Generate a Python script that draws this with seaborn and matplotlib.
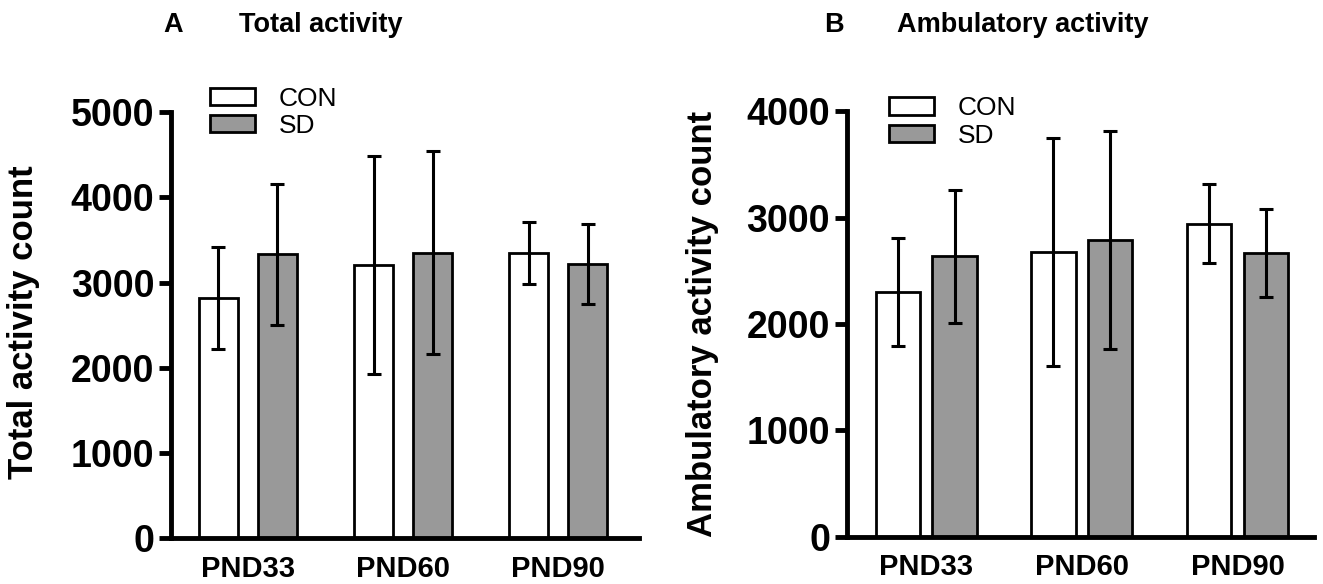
import pandas as pd
import numpy as np
import matplotlib
matplotlib.use("Agg")
import matplotlib.pyplot as plt
import seaborn as sns

# data (mean +/- error)
ages = ["PND33", "PND60", "PND90"]
groups = ["CON", "SD"]

total_con = [2820, 3210, 3350]
total_sd = [3330, 3350, 3220]
total_con_err = [595, 1280, 365]
total_sd_err = [830, 1190, 470]

amb_con = [2300, 2675, 2945]
amb_sd = [2635, 2790, 2670]
amb_con_err = [510, 1075, 375]
amb_sd_err = [625, 1030, 415]

sns.set_style("ticks")
plt.rcParams['font.family'] = ['Liberation Sans', 'DejaVu Sans']
plt.rcParams.update({
    'text.color': 'black', 'axes.labelcolor': 'black',
    'xtick.color': 'black', 'ytick.color': 'black',
    'axes.edgecolor': 'black',
})

fig = plt.figure(figsize=(13.23, 5.84), dpi=100)
ax_a = fig.add_axes([0.1293, 0.0788, 0.3537, 0.729])
ax_b = fig.add_axes([0.640, 0.0813, 0.353, 0.728])

palette = {"CON": "white", "SD": "#999999"}


def panel(ax, con, sd, con_err, sd_err, ymax, ylabel, width, gap, leg_anchor, xlim):
    df = pd.DataFrame({
        "age": ages * 2,
        "group": ["CON"] * 3 + ["SD"] * 3,
        "count": con + sd,
    })
    sns.barplot(data=df, x="age", y="count", hue="group", order=ages,
                hue_order=groups, palette=palette, edgecolor="black",
                linewidth=2, width=width, gap=gap, errorbar=None,
                legend=False, ax=ax)
    for cont, err, vals in zip(ax.containers, [con_err, sd_err], [con, sd]):
        xs = [b.get_x() + b.get_width() / 2 for b in cont]
        ax.errorbar(xs, vals, yerr=err, fmt="none", ecolor="black",
                    elinewidth=2.2, capsize=5, capthick=2.2, zorder=5)
    ax.set_ylim(0, ymax)
    ax.set_xlim(*xlim)
    ax.set_yticks(np.arange(0, ymax + 1, 1000))
    ax.set_xlabel("")
    ax.set_ylabel(ylabel, fontsize=25, fontweight="bold")
    sns.despine(ax=ax)
    for s in ["left", "bottom"]:
        ax.spines[s].set_linewidth(3.5)
    ax.tick_params(axis="y", length=9, width=3.5, pad=3, labelsize=27)
    ax.tick_params(axis="x", length=0, pad=12, labelsize=21)
    for lab in ax.get_yticklabels() + ax.get_xticklabels():
        lab.set_fontweight("bold")
    handles = [c.patches[0] for c in ax.containers if hasattr(c, "patches")][:2]
    ax.legend(handles, groups, loc="upper left", bbox_to_anchor=leg_anchor,
              frameon=False, fontsize=19, borderpad=0, borderaxespad=0,
              handlelength=1.7, handleheight=0.65, handletextpad=0.9,
              labelspacing=0.12)


panel(ax_a, total_con, total_sd, total_con_err, total_sd_err, 5000,
      "Total activity count", 0.76, 0.34, (0.083, 1.06), (-0.494, 2.519))
panel(ax_b, amb_con, amb_sd, amb_con_err, amb_sd_err, 4000,
      "Ambulatory activity count", 0.73, 0.22, (0.09, 1.035), (-0.511, 2.49))

ax_a.yaxis.set_label_coords(-0.28, 0.507)
ax_b.yaxis.set_label_coords(-0.274, 0.50)

fig.text(163 / 1323, 0.957, "A", fontsize=19.5, fontweight="bold", va="center")
fig.text(239 / 1323, 0.957, "Total activity", fontsize=19.5, fontweight="bold", va="center")
fig.text(824 / 1323, 0.957, "B", fontsize=19.5, fontweight="bold", va="center")
fig.text(897 / 1323, 0.957, "Ambulatory activity", fontsize=19.5, fontweight="bold", va="center")

fig.savefig("out.png", dpi=100)
